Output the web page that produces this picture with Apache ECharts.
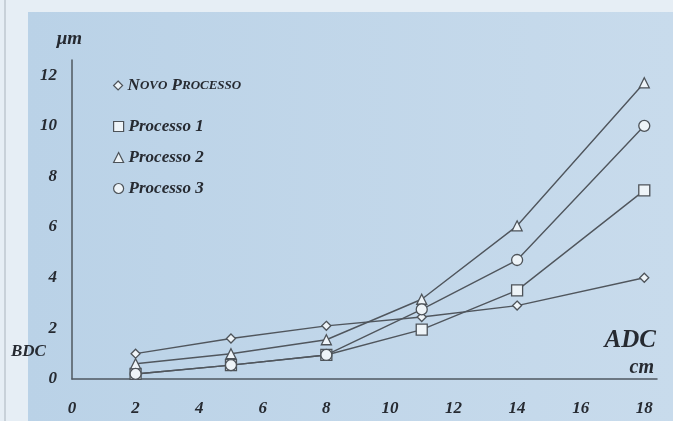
<!DOCTYPE html>
<html>
<head>
<meta charset="utf-8">
<script src="https://cdn.jsdelivr.net/npm/echarts@6/dist/echarts.min.js"></script>
<style>
html,body{margin:0;padding:0;background:#e6eef5;}
#chartmain{width:673px;height:421px;}
</style>
</head>
<body>
<div id="chartmain"></div>
<script>
// ADC (cm)
var adcVals = [2, 5, 8, 11, 14, 18];
// BDC (um) por processo
var novoVals = [1.0, 1.6, 2.1, 2.45, 2.9, 4.0];
var proc1Vals = [0.2, 0.55, 0.95, 1.95, 3.5, 7.45];
var proc2Vals = [0.6, 1.0, 1.55, 3.15, 6.05, 11.7];
var proc3Vals = [0.2, 0.55, 0.95, 2.75, 4.7, 10.0];
var seriesNames = ['Novo Processo', 'Processo 1', 'Processo 2', 'Processo 3'];
var seriesSymbols = ['diamond', 'rect', 'triangle', 'circle'];

var serif = '"Liberation Serif","DejaVu Serif",serif';
var ink = '#262a31';

function pairs(ys){
    var out = [];
    for (var i = 0; i < adcVals.length; i++) {
        out.push([adcVals[i], ys[i]]);
    }
    return out;
}

function mkSeries(name, ys, symbol, size){
    return {
        name: name,
        type: 'line',
        data: pairs(ys),
        symbol: symbol,
        symbolSize: size,
        showAllSymbol: true,
        lineStyle: {color: '#50565d', width: 1.4},
        itemStyle: {color: '#eef4f8', borderColor: '#4d5359', borderWidth: 1.3},
        emphasis: {disabled: true},
        z: 3
    };
}

var legendText = {
    fontFamily: serif,
    fontStyle: 'italic',
    fontWeight: 'bold',
    fontSize: 17,
    color: ink,
    rich: {
        c: {fontFamily: serif, fontStyle: 'italic', fontWeight: 'bold', fontSize: 17, color: ink},
        s: {fontFamily: serif, fontStyle: 'italic', fontWeight: 'bold', fontSize: 13, color: ink}
    }
};

var option = {
    animation: false,
    graphic: [
        {
            type: 'rect',
            shape: {x: 28, y: 12, width: 645, height: 409},
            style: {
                fill: {
                    type: 'linear', x: 0, y: 0, x2: 1, y2: 0,
                    colorStops: [{offset: 0, color: '#bad2e7'}, {offset: 1, color: '#c8dbec'}]
                }
            },
            z: -10
        },
        {
            type: 'line',
            shape: {x1: 5, y1: 0, x2: 5, y2: 421},
            style: {stroke: '#aab4bd', lineWidth: 1},
            z: -9
        },
        {
            type: 'text', left: 11, top: 343,
            style: {text: 'BDC', font: 'italic bold 17px ' + serif, fill: ink}
        },
        {
            type: 'text', right: 17, top: 328,
            style: {text: 'ADC', font: 'italic bold 25px ' + serif, fill: ink}
        },
        {
            type: 'text', right: 19, top: 358,
            style: {text: 'cm', font: 'italic bold 20px ' + serif, fill: ink}
        }
    ],
    legend: [
        {
            data: [{name: seriesNames[0], icon: 'diamond'}],
            left: 108, top: 72,
            itemWidth: 9, itemHeight: 9,
            itemGap: 8,
            itemStyle: {color: '#eef4f8', borderColor: '#4d5359', borderWidth: 1.2},
            textStyle: legendText,
            formatter: function (name) {
                return '{c|N}{s|OVO} {c|P}{s|ROCESSO}';
            }
        },
        {
            data: [
                {name: seriesNames[1], icon: 'rect'},
                {name: seriesNames[2], icon: 'triangle'},
                {name: seriesNames[3], icon: 'circle'}
            ],
            orient: 'vertical',
            left: 108, top: 113,
            itemGap: 14,
            itemWidth: 10, itemHeight: 10,
            itemStyle: {color: '#eef4f8', borderColor: '#4d5359', borderWidth: 1.2},
            textStyle: legendText
        }
    ],
    grid: {left: 72, right: 16, top: 60, bottom: 42},
    xAxis: {
        type: 'value',
        min: 0, max: 18.4, interval: 2,
        axisLine: {show: true, onZero: false, lineStyle: {color: '#4f5861', width: 1.5}},
        axisTick: {show: false},
        splitLine: {show: false},
        axisLabel: {
            showMaxLabel: false,
            margin: 21,
            fontFamily: serif, fontStyle: 'italic', fontWeight: 'bold',
            fontSize: 17, color: ink
        }
    },
    yAxis: {
        type: 'value',
        min: 0, max: 12.6, interval: 2,
        name: 'μm',
        nameLocation: 'end',
        nameGap: 11,
        nameTextStyle: {fontFamily: serif, fontStyle: 'italic', fontWeight: 'bold', fontSize: 19, color: ink, align: 'right', padding: [0, -10, 0, 0]},
        axisLine: {show: true, lineStyle: {color: '#4f5861', width: 1.5}},
        axisTick: {show: false},
        splitLine: {show: false},
        axisLabel: {
            showMaxLabel: false,
            margin: 15,
            fontFamily: serif, fontStyle: 'italic', fontWeight: 'bold',
            fontSize: 17, color: ink
        }
    },
    series: [
        mkSeries(seriesNames[0], novoVals, seriesSymbols[0], 9),
        mkSeries(seriesNames[1], proc1Vals, seriesSymbols[1], 11),
        mkSeries(seriesNames[2], proc2Vals, seriesSymbols[2], 10),
        mkSeries(seriesNames[3], proc3Vals, seriesSymbols[3], 11)
    ]
};
var myChart = echarts.init(document.getElementById('chartmain'));
myChart.setOption(option);
</script>
</body>
</html>
